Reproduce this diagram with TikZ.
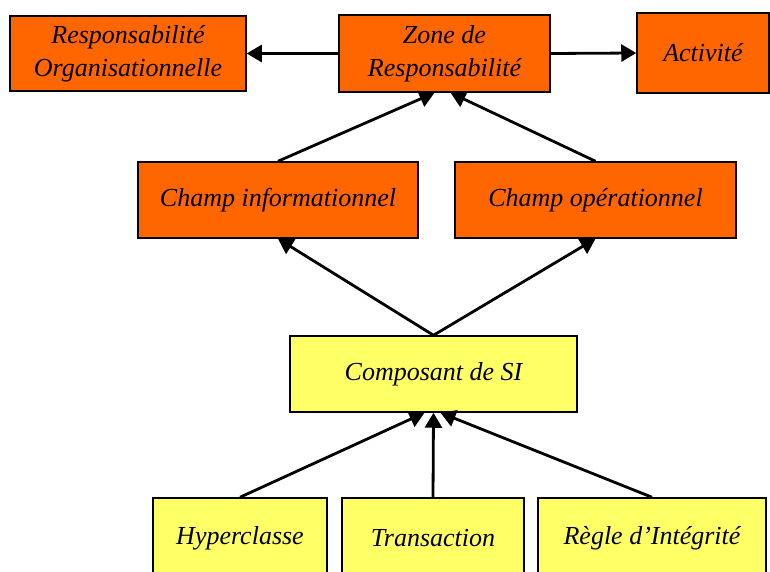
\documentclass[tikz,border=0pt]{standalone}
\usepackage{fontspec}
\setmainfont{Liberation Serif}
\usetikzlibrary{arrows.meta}
\definecolor{orangebox}{HTML}{FF6600}
\definecolor{yellowbox}{HTML}{FFFF66}
\begin{document}
\begin{tikzpicture}[x=1pt, y=-1pt,
  font=\fontsize{26}{33}\selectfont\itshape,
  box/.style={draw, line width=1.5pt, align=center, inner sep=0pt,
              minimum height=#1},
  hbox/.style={box=75pt, fill=orangebox},
  sbox/.style={box=80pt, fill=yellowbox},
  arr/.style={-{Triangle[length=15pt, width=17pt]}, line width=2.8pt}
]
  \useasboundingbox (0,0) rectangle (770,572);
  \clip (0,0) rectangle (770,572);
  % niveau organisation
  \node[hbox, minimum width=236pt] (resp) at (128,53.5)
        {Responsabilité\\Organisationnelle};
  \node[hbox, minimum width=211pt, minimum height=77pt] (zone) at (444.5,53.5)
        {Zone de\\Responsabilité};
  \node[hbox, minimum width=132pt, minimum height=80pt] (activ) at (703,53)
        {Activité};
  % champs
  \node[hbox, minimum width=280pt, minimum height=76pt] (info) at (278,200)
        {Champ informationnel};
  \node[hbox, minimum width=281pt, minimum height=76pt] (oper) at (595.5,200)
        {Champ opérationnel};
  % composants
  \node[box=76pt, fill=yellowbox, minimum width=287pt] (compo) at (433.5,374)
        {Composant de SI};
  \node[sbox, minimum width=174pt] (hyper) at (240,538) {Hyperclasse};
  \node[sbox, minimum width=182pt] (trans) at (433,538) {Transaction};
  \node[sbox, minimum width=228pt] (regle) at (652,538) {Règle d’Intégrité};
  \draw[arr] (zone.west) -- (resp.east);
  \draw[arr] (zone.east) -- (activ.west);
  \draw[arr] (info.north) -- ([xshift=-10pt]zone.south);
  \draw[arr] (oper.north) -- ([xshift=6pt]zone.south);
  \draw[arr] (compo.north) -- (info.south);
  \draw[arr] (compo.north) -- (oper.south);
  \draw[arr] (hyper.north) -- ([xshift=-9pt]compo.south);
  \draw[arr] (trans.north) -- (compo.south);
  \draw[arr] (regle.north) -- ([xshift=7pt]compo.south);
\end{tikzpicture}
\end{document}
